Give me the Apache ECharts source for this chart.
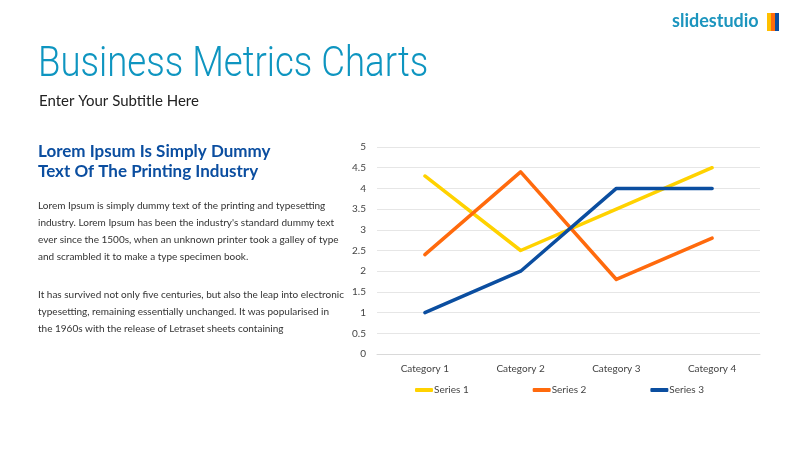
<!DOCTYPE html>
<html>
<head>
<meta charset="utf-8">
<script src="https://cdn.jsdelivr.net/npm/echarts@6/dist/echarts.min.js"></script>
<style>
  html, body { margin: 0; padding: 0; background: #fff; }
  #main { width: 800px; height: 450px; }
</style>
</head>
<body>
<div id="main"></div>
<script>
// chart data
const categories = ['Category 1', 'Category 2', 'Category 3', 'Category 4']
const series1 = [4.3, 2.5, 3.5, 4.5]
const series2 = [2.4, 4.4, 1.8, 2.8]
const series3 = [1, 2, 4, 4]
const seriesNames = ['Series 1', 'Series 2', 'Series 3']
const colors = ['#FFD200', '#FF6A0D', '#0B4EA0']

// slide texts
const heading = ['Lorem Ipsum Is Simply Dummy', 'Text Of The Printing Industry']
const para1 = [
  'Lorem Ipsum is simply dummy text of the printing and typesetting',
  'industry. Lorem Ipsum has been the industry\'s standard dummy text',
  'ever since the 1500s, when an unknown printer took a galley of type',
  'and scrambled it to make a type specimen book.'
]
const para2 = [
  'It has survived not only five centuries, but also the leap into electronic',
  'typesetting, remaining essentially unchanged. It was popularised in',
  'the 1960s with the release of Letraset sheets containing'
]

function textLines (lines, x, y0, step, style) {
  return lines.map((t, i) => ({
    type: 'text',
    x: x,
    y: y0 + i * step,
    style: Object.assign({ text: t }, style)
  }))
}

const bodyStyle = { fontFamily: 'Lato', fontSize: 10, fill: '#333' }
const headStyle = { fontFamily: 'Lato', fontSize: 17, fontWeight: 'bold', fill: '#0B4EA0' }

let graphics = [
  { type: 'text', x: 672, y: 12, style: { text: 'slidestudio', fontFamily: 'Lato', fontSize: 18, fontWeight: 'bold', fill: '#1C95BE' } },
  { type: 'rect', x: 767, y: 13, shape: { width: 4, height: 18 }, style: { fill: '#FFC000' } },
  { type: 'rect', x: 771, y: 13, shape: { width: 4, height: 18 }, style: { fill: '#FF6A0D' } },
  { type: 'rect', x: 775, y: 13, shape: { width: 4, height: 18 }, style: { fill: '#0B4EA0' } },
  { type: 'text', x: 38, y: 44, scaleX: 0.85, style: { text: 'Business Metrics Charts', fontFamily: 'Roboto', fontWeight: 300, fontSize: 43, fill: '#0E95C0' } },
  { type: 'text', x: 39, y: 94, style: { text: 'Enter Your Subtitle Here', fontFamily: 'Lato', fontSize: 15, fill: '#222' } }
]
graphics = graphics
  .concat(textLines(heading, 38, 143, 20, headStyle))
  .concat(textLines(para1, 38, 201, 17, bodyStyle))
  .concat(textLines(para2, 38, 290, 17, bodyStyle))

const chart = echarts.init(document.getElementById('main'))
const option = {
  animation: false,
  color: colors,
  graphic: graphics,
  legend: {
    data: seriesNames,
    left: 410,
    top: 380,
    itemGap: 64,
    itemWidth: 18,
    itemHeight: 4,
    icon: 'roundRect',
    textStyle: { fontFamily: 'Lato', fontSize: 10, color: '#444', padding: [0, 0, 0, -4] }
  },
  grid: { left: 377, right: 40, top: 147, bottom: 96 },
  xAxis: {
    type: 'category',
    data: categories,
    boundaryGap: true,
    axisLine: { show: true, lineStyle: { color: '#d9d9d9' } },
    axisTick: { show: false },
    axisLabel: { fontFamily: 'Lato', fontSize: 10, color: '#444', margin: 10 }
  },
  yAxis: {
    type: 'value',
    min: 0,
    max: 5,
    interval: 0.5,
    axisLine: { show: false },
    axisTick: { show: false },
    axisLabel: { fontFamily: 'Lato', fontSize: 10, color: '#444', margin: 11 },
    splitLine: { lineStyle: { color: '#e6e6e6' } }
  },
  series: [series1, series2, series3].map((d, i) => ({
    name: seriesNames[i],
    type: 'line',
    data: d,
    symbol: 'none',
    lineStyle: { width: 3.5, cap: 'round', join: 'round' }
  }))
}
chart.setOption(option)
window.addEventListener('resize', () => {
  chart.resize()
})
</script>
</body>
</html>
